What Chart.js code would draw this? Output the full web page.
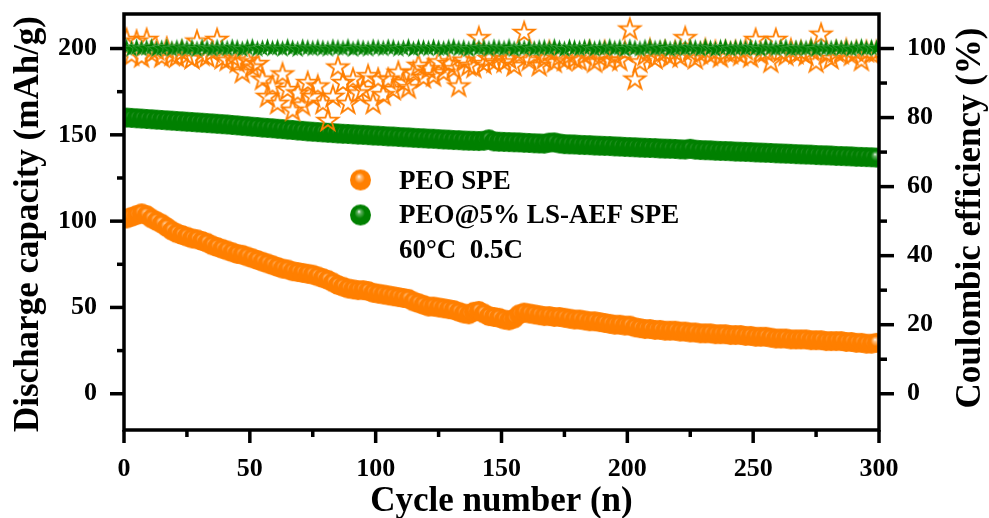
<!DOCTYPE html>
<html>
<head>
<meta charset="utf-8">
<script src="https://cdn.jsdelivr.net/npm/chart.js@4.4.1/dist/chart.umd.min.js"></script>
<style>
  html, body { margin: 0; padding: 0; background: #fff; }
  #wrap { width: 989px; height: 518px; }
</style>
</head>
<body>
<div id="wrap"><canvas id="chart"></canvas></div>
<script>
// cycle numbers (every 2nd cycle is plotted)
const cycles = [];
for (let c = 1; c < 300; c += 2) cycles.push(c);

// discharge capacity (mAh/g)
const capPeo = [
  101.5,102.5,103.5,104.5,103.5,101.5,100,98.5,96.5,94.5,
  93,92,91,90,89.5,88.5,87.5,86,85,84,
  83,82,81,80.5,79.5,78.5,77.5,76.5,75.5,74.5,
  73.5,72.5,72,71,70.5,70,69.5,69,68,67,
  66,64.5,63,62,61,60.5,60,60,59.5,58.5,
  58,57.5,57,56.5,56,55.5,55,53.5,52.5,51.5,
  50.5,50.5,50,49.5,49,48.5,47.5,46.5,46,47.5,
  48,46.5,45,44.5,44,43,42.5,43.5,46,47,
  46.5,46,45.5,45,45,44.5,44.5,44,43.5,43,
  43,42.5,42,42,41.5,41,40.5,40,40,39.5,
  39.5,38.5,38,37.5,37.5,37,37,36.5,36.5,36.5,
  36,36,35.5,35.5,35,35,35,34.5,34.5,34.5,
  34,34,34,33.5,33.5,33,33,33,32.5,32,
  32,32,31.5,31.5,31.5,31.5,31,31,31,30.5,
  30.5,30.5,30.5,30,30,29.5,29.5,29,29,29.5
];
const capLs = [
  160,159.8,159.6,159.4,159.2,159,158.8,158.6,158.4,158.2,
  158,157.8,157.6,157.4,157.2,157,156.8,156.6,156.4,156.2,
  156,155.7,155.5,155.2,155,154.7,154.5,154.2,154,153.8,
  153.5,153.3,153,152.8,152.5,152.3,152,151.8,151.6,151.4,
  151.2,151,150.8,150.6,150.5,150.3,150.1,150,149.8,149.6,
  149.5,149.3,149.1,149,148.8,148.6,148.5,148.3,148.1,148,
  147.8,147.7,147.5,147.3,147.2,147,146.9,146.7,146.6,146.5,
  146.4,146.6,147.4,146.2,146,145.9,145.8,145.7,145.6,145.4,
  145.3,145.1,145,144.9,145.5,145.6,145,144.6,144.5,144.4,
  144.2,144.1,144,143.8,143.7,143.6,143.5,143.3,143.2,143,
  142.9,142.8,142.6,142.5,142.4,142.3,142.1,142,141.9,141.8,
  141.6,141.5,141.9,141.4,141.2,141.1,141,140.8,140.7,140.6,
  140.5,140.3,140.2,140.1,140,139.8,139.7,139.6,139.5,139.3,
  139.2,139.1,139,138.8,138.7,138.6,138.5,138.3,138.2,138.1,
  138,137.8,137.7,137.6,137.5,137.3,137.2,137.1,137,136.8
];

// coulombic efficiency (%)
const cePeo = [
  102.5,98,102,97.5,102.5,98.5,99.5,97.5,100,98,
  97.5,99,98,97,102,98,97.5,99,102.5,97,
  96.5,97.5,96,93,96.5,94.5,95.5,91,86,89,
  84,92.5,88,82,87,83.5,90,86,89,84,
  79,86,94.5,90,84,91,87,88,92,84,
  91,86.5,91,88,93,90,88.5,93,95,91.5,
  94,92,96,93,95.5,94,89,96.5,95,94.5,
  103,95.5,97,96,98,96,97,95,98,104.5,
  96.5,98,95,97,99,96,97.5,96.5,98,97,
  96.5,98,99,96,97.5,99,96.5,98,96.5,99,
  105.5,91,96,98,99.5,97,98.5,99,97.5,99,
  97.5,103,99,97,98.5,99.5,98,99,97.5,99,
  98.5,99,98,99.5,97.5,102.5,98.5,99,96,102.5,
  99,98,99.5,98.5,99,98,99.5,96,104,98.5,
  97,99,98.5,99.5,98,99,96.5,99,98.5,99
];
const ceLs = [
  100.2,99.8,100.3,99.9,100.1,100.4,99.7,100,100.3,99.8,
  100.1,100.4,99.9,100.2,99.7,100.3,100,99.8,100.2,100.1,
  99.9,100.3,100.1,99.7,100.2,100.4,99.8,100,100.3,99.9,
  100.2,99.8,100.4,100,99.7,100.3,100.1,99.9,100.2,100,
  99.8,100.3,100.1,99.9,100.4,99.7,100.2,100,99.8,100.3,
  100.1,99.9,100.3,100.2,99.8,100,100.4,99.7,100.2,100.1,
  99.9,100.3,100,99.8,100.2,100.4,99.9,100.1,99.7,100.3,
  100,100.2,99.8,100.3,100.1,99.9,100.4,99.7,100.2,100,
  100.3,99.8,100.1,100.2,99.9,100.4,100,99.7,100.3,100.1,
  99.9,100.2,100.3,99.8,100.1,100,100.4,99.9,100.2,99.7,
  100.3,100,99.8,100.2,100.4,99.9,100.1,100.3,99.7,100,
  100.2,99.9,100.3,100.1,99.8,100.4,100,99.7,100.2,100.3,
  99.8,100.1,100.2,99.9,100.3,100,99.7,100.4,100.1,99.9,
  100.2,100.3,99.8,100,100.1,99.9,100.4,99.7,100.2,100.1,
  99.9,100.3,100,100.2,99.8,100.1,100.4,99.9,100.2,100
];

// ticks
const xTicks = [0, 50, 100, 150, 200, 250, 300];
const xMinor = [25, 75, 125, 175, 225, 275];
const capTicks = [0, 50, 100, 150, 200];
const capMinor = [25, 75, 125, 175];
const ceTicks = [0, 20, 40, 60, 80, 100];
const ceMinor = [10, 30, 50, 70, 90];

const legendLabels = ['PEO SPE', 'PEO@5% LS-AEF SPE'];
const conditionText = '60\u00B0C  0.5C';

const ORANGE = '#ff7f00';
const GREEN = '#008000';
const SERIF = '"Liberation Serif", "Times New Roman", serif';

// shaded ball marker
function ball(color, light, r) {
  const c = document.createElement('canvas');
  c.width = c.height = 2 * r + 2;
  const g = c.getContext('2d');
  const m = r + 1;
  const grad = g.createRadialGradient(m - r * 0.15, m - r * 0.35, 0, m, m, r);
  grad.addColorStop(0, '#ffffff');
  grad.addColorStop(0.18, light);
  grad.addColorStop(0.5, color);
  grad.addColorStop(1, color);
  g.fillStyle = grad;
  g.beginPath();
  g.arc(m, m, r, 0, Math.PI * 2);
  g.fill();
  return c;
}

// five-point star marker
function star(R, fill, stroke, lw) {
  const c = document.createElement('canvas');
  const s = Math.ceil(2 * R + 2 * lw + 2);
  c.width = c.height = s;
  const g = c.getContext('2d');
  g.beginPath();
  for (let k = 0; k < 10; k++) {
    const a = -Math.PI / 2 + k * Math.PI / 5;
    const rr = k % 2 ? R * 0.382 : R;
    const px = s / 2 + rr * Math.cos(a), py = s / 2 + rr * Math.sin(a);
    k ? g.lineTo(px, py) : g.moveTo(px, py);
  }
  g.closePath();
  if (fill) { g.fillStyle = fill; g.fill(); }
  if (stroke) { g.strokeStyle = stroke; g.lineWidth = lw; g.lineJoin = 'miter'; g.stroke(); }
  return c;
}

const ballOrange = ball(ORANGE, '#ffc080', 10);
const ballGreen = ball(GREEN, '#60b060', 10);
const legOrange = ball(ORANGE, '#ffc080', 10.5);
const legGreen = ball(GREEN, '#60b060', 10.5);
const starOrange = star(11, null, ORANGE, 1.8);
const starGreen = star(9.5, GREEN, 'rgba(255,255,255,0.35)', 0.6);

const pts = arr => cycles.map((c, i) => ({ x: c, y: arr[i] }));

// frame, tick marks, titles and legend
const decor = {
  id: 'decor',
  afterDatasetsDraw(chart) {
    const { ctx, chartArea: a, scales } = chart;
    ctx.save();
    ctx.strokeStyle = '#000';
    ctx.lineWidth = 3.5;
    ctx.strokeRect(a.left, a.top, a.right - a.left, a.bottom - a.top);
    const line = (x1, y1, x2, y2) => { ctx.beginPath(); ctx.moveTo(x1, y1); ctx.lineTo(x2, y2); ctx.stroke(); };
    xTicks.forEach(v => { const x = scales.x.getPixelForValue(v); line(x, a.bottom, x, a.bottom + 13); });
    xMinor.forEach(v => { const x = scales.x.getPixelForValue(v); line(x, a.bottom, x, a.bottom + 7); });
    capTicks.forEach(v => { const y = scales.y.getPixelForValue(v); line(a.left - 14, y, a.left, y); });
    capMinor.forEach(v => { const y = scales.y.getPixelForValue(v); line(a.left - 7, y, a.left, y); });
    ceTicks.forEach(v => { const y = scales.y2.getPixelForValue(v); line(a.right, y, a.right + 15, y); });
    ceMinor.forEach(v => { const y = scales.y2.getPixelForValue(v); line(a.right, y, a.right + 8, y); });
    ctx.restore();
  },
  afterDraw(chart) {
    const { ctx, chartArea: a } = chart;
    ctx.save();
    ctx.fillStyle = '#000';
    ctx.font = 'bold 35px ' + SERIF;
    ctx.textAlign = 'center';
    ctx.textBaseline = 'alphabetic';
    ctx.fillText('Cycle number (n)', (a.left + a.right) / 2, 511);

    ctx.save();
    ctx.translate(38, 224);
    ctx.rotate(-Math.PI / 2);
    ctx.fillText('Discharge capacity (mAh/g)', 0, 0);
    ctx.restore();

    ctx.save();
    ctx.translate(980, 218);
    ctx.rotate(-Math.PI / 2);
    ctx.fillText('Coulombic efficiency (%)', 0, 0);
    ctx.restore();

    // legend
    ctx.drawImage(legOrange, 360.5 - legOrange.width / 2, 180 - legOrange.height / 2);
    ctx.drawImage(legGreen, 360.5 - legGreen.width / 2, 215 - legGreen.height / 2);
    ctx.font = 'bold 27px ' + SERIF;
    ctx.textAlign = 'left';
    ctx.fillText(legendLabels[0], 399, 189);
    ctx.fillText(legendLabels[1], 399, 223);
    ctx.fillText(conditionText, 399, 258);
    ctx.restore();
  }
};

const tickFont = { family: SERIF, size: 26, weight: 'bold', lineHeight: 1 };
const fixTicks = list => s => { s.ticks = list.map(v => ({ value: v })); };
// invisible tick marks only set the label offset; the real marks are drawn by the plugin
const hiddenGrid = len => ({ display: true, drawOnChartArea: false, drawTicks: true, tickLength: len, tickColor: 'rgba(0,0,0,0)' });

new Chart(document.getElementById('chart'), {
  type: 'scatter',
  data: {
    datasets: [
      { label: 'CE LS-AEF', data: pts(ceLs), yAxisID: 'y2', pointStyle: starGreen, pointRadius: 5 },
      { label: 'CE PEO', data: pts(cePeo), yAxisID: 'y2', pointStyle: starOrange, pointRadius: 5 },
      { label: legendLabels[1], data: pts(capLs), yAxisID: 'y', pointStyle: ballGreen, pointRadius: 5 },
      { label: legendLabels[0], data: pts(capPeo), yAxisID: 'y', pointStyle: ballOrange, pointRadius: 5 }
    ]
  },
  options: {
    responsive: true,
    maintainAspectRatio: false,
    animation: false,
    events: [],
    layout: { padding: { top: 14, left: 0, right: 0, bottom: 0 } },
    plugins: { legend: { display: false }, tooltip: { enabled: false } },
    scales: {
      x: {
        type: 'linear', min: 0, max: 300,
        afterBuildTicks: fixTicks(xTicks),
        afterFit: s => { s.height = 88; },
        grid: hiddenGrid(26),
        border: { display: false },
        ticks: { font: tickFont, color: '#000', padding: 0, maxRotation: 0, autoSkip: false }
      },
      y: {
        position: 'left', min: -21, max: 220,
        afterBuildTicks: fixTicks(capTicks),
        afterFit: s => { s.width = 124; },
        grid: hiddenGrid(27),
        border: { display: false },
        ticks: { font: tickFont, color: '#000', padding: 0 }
      },
      y2: {
        position: 'right', min: -10.5, max: 110,
        afterBuildTicks: fixTicks(ceTicks),
        afterFit: s => { s.width = 110; },
        grid: hiddenGrid(28),
        border: { display: false },
        ticks: { font: tickFont, color: '#000', padding: 0 }
      }
    }
  },
  plugins: [decor]
});
</script>
</body>
</html>
